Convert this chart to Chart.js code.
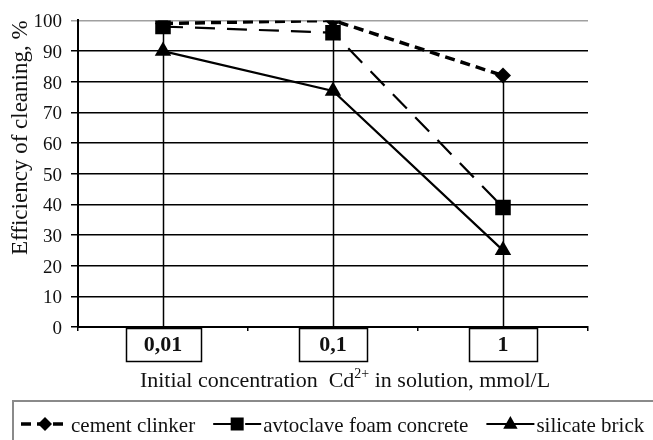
<!DOCTYPE html>
<html>
<head>
<meta charset="utf-8">
<script src="https://cdn.jsdelivr.net/npm/chart.js@4"></script>
<style>
  html, body { margin: 0; padding: 0; background: #fff; }
  canvas { display: block; }
</style>
</head>
<body>
<canvas id="chart" width="653" height="440"></canvas>
<script>
const categories = ['0,01', '0,1', '1'];
const cementClinker = [99, 100, 82];
const foamConcrete = [98, 96, 39];
const silicateBrick = [90, 77, 25];
const seriesNames = ['cement clinker', 'avtoclave foam concrete', 'silicate brick'];

const serif = '"Liberation Serif", "Times New Roman", serif';

// vertical drop line from the highest point of each category to the axis
const dropLines = {
  id: 'dropLines',
  beforeDatasetsDraw(chart) {
    const { ctx, chartArea, scales: { x, y } } = chart;
    ctx.save();
    ctx.strokeStyle = '#000';
    ctx.lineWidth = 1.5;
    categories.forEach((c, i) => {
      const top = Math.max(...chart.data.datasets.map(d => d.data[i]));
      const px = Math.round(x.getPixelForValue(i)) + 0.5;
      ctx.beginPath();
      ctx.moveTo(px, y.getPixelForValue(top));
      ctx.lineTo(px, chartArea.bottom);
      ctx.stroke();
    });
    ctx.restore();
  }
};

function marker(ctx, style, cx, cy, r) {
  ctx.beginPath();
  if (style === 'rectRot') {
    ctx.moveTo(cx, cy - r); ctx.lineTo(cx + r, cy); ctx.lineTo(cx, cy + r); ctx.lineTo(cx - r, cy);
  } else if (style === 'rect') {
    ctx.rect(cx - r, cy - r, 2 * r, 2 * r);
  } else {
    ctx.moveTo(cx, cy - r); ctx.lineTo(cx + r * 0.9, cy + r * 0.6); ctx.lineTo(cx - r * 0.9, cy + r * 0.6);
  }
  ctx.closePath();
  ctx.fill();
}

const decorations = {
  id: 'decorations',
  afterDraw(chart) {
    const { ctx, scales: { x } } = chart;
    ctx.save();

    // boxes round the category labels
    ctx.font = `bold 22px ${serif}`;
    ctx.strokeStyle = '#000';
    ctx.lineWidth = 1.5;
    x.ticks.forEach((t, i) => {
      const cx = x.getPixelForTick(i);
      const w = Math.max(68, ctx.measureText(categories[i]).width + 36);
      ctx.strokeRect(Math.round(cx - w / 2) + 0.5, 328.5, Math.round(w), 33);
    });

    // x axis title with superscript
    const a = 'Initial concentration  Cd', sup = '2+', b = ' in solution, mmol/L';
    ctx.fillStyle = '#111';
    ctx.textBaseline = 'alphabetic';
    ctx.textAlign = 'left';
    ctx.font = `22px ${serif}`;
    const wa = ctx.measureText(a).width, wb = ctx.measureText(b).width;
    ctx.font = `14px ${serif}`;
    const ws = ctx.measureText(sup).width;
    let tx = 345 - (wa + ws + wb) / 2;
    ctx.font = `22px ${serif}`;
    ctx.fillText(a, tx, 387);
    ctx.font = `14px ${serif}`;
    ctx.fillText(sup, tx + wa, 378);
    ctx.font = `22px ${serif}`;
    ctx.fillText(b, tx + wa + ws, 387);

    // legend box
    ctx.strokeStyle = '#8a8a8a';
    ctx.lineWidth = 2;
    ctx.strokeRect(13, 401, 700, 80);

    // legend items
    let lx = 21;
    const ly = 424;
    chart.data.datasets.forEach(ds => {
      ctx.save();
      ctx.strokeStyle = '#000';
      ctx.lineWidth = ds.borderWidth;
      ctx.setLineDash(ds.borderDash || []);
      ctx.beginPath();
      ctx.moveTo(lx, ly);
      ctx.lineTo(lx + 48, ly);
      ctx.stroke();
      ctx.restore();
      ctx.fillStyle = '#000';
      marker(ctx, ds.pointStyle, lx + 24, ly, ds.legendSize);
      ctx.font = `21px ${serif}`;
      ctx.fillStyle = '#111';
      ctx.fillText(ds.label, lx + 50, 432);
      lx += 50 + ctx.measureText(ds.label).width + 18;
    });
    ctx.restore();
  }
};

new Chart(document.getElementById('chart'), {
  type: 'line',
  data: {
    labels: categories,
    datasets: [
      {
        label: seriesNames[0], data: cementClinker,
        borderColor: '#000', backgroundColor: '#000', borderWidth: 3.5, borderDash: [10, 6],
        pointStyle: 'rectRot', pointRadius: 8, pointBorderWidth: 0, legendSize: 7
      },
      {
        label: seriesNames[1], data: foamConcrete,
        borderColor: '#000', backgroundColor: '#000', borderWidth: 2.2, borderDash: [20, 12],
        pointStyle: 'rect', pointRadius: 11, pointBorderWidth: 0, legendSize: 6.5
      },
      {
        label: seriesNames[2], data: silicateBrick,
        borderColor: '#000', backgroundColor: '#000', borderWidth: 2.2,
        pointStyle: 'triangle', pointRadius: 9.5, pointBorderWidth: 0, legendSize: 8
      }
    ]
  },
  options: {
    responsive: false,
    animation: false,
    layout: { padding: { left: 0, top: 17, right: 65, bottom: 50 } },
    plugins: { legend: { display: false }, tooltip: { enabled: false } },
    scales: {
      x: {
        offset: true,
        grid: { display: true, offset: true, drawOnChartArea: false, tickLength: 4, color: '#000', lineWidth: 1.5 },
        border: { color: '#000', width: 2 },
        ticks: { font: { family: serif, size: 22, weight: 'bold' }, color: '#111', padding: 1, maxRotation: 0 },
        afterFit(s) { s.height = 63; }
      },
      y: {
        min: 0, max: 100,
        grid: {
          color: c => (c.tick && c.tick.value === 100 ? '#a0a0a0' : '#000'),
          lineWidth: 1.5, tickLength: 7
        },
        border: { color: '#000', width: 2 },
        ticks: { stepSize: 10, font: { family: serif, size: 19 }, color: '#111', padding: 9, labelOffset: 2 },
        title: {
          display: true, text: 'Efficiency of cleaning, %', align: 'end',
          font: { family: serif, size: 23 }, color: '#111', padding: { top: 7, bottom: 0 }
        },
        afterFit(s) { s.width = 78; }
      }
    }
  },
  plugins: [dropLines, decorations]
});
</script>
</body>
</html>
